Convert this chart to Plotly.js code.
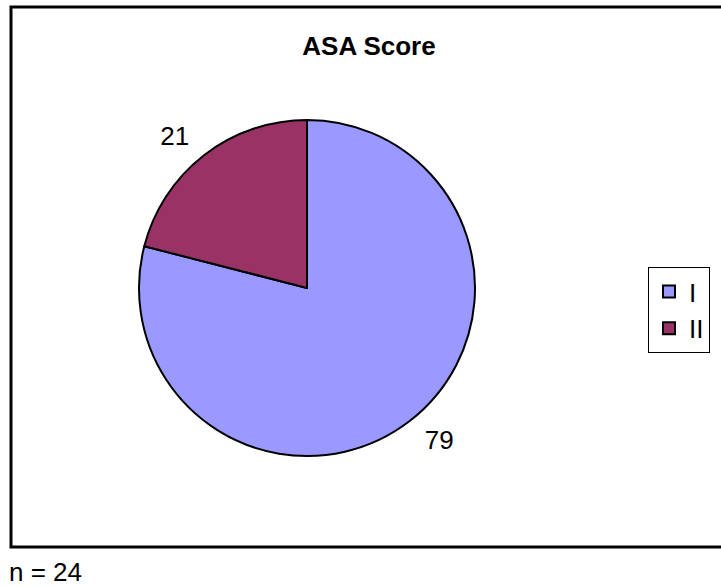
<!DOCTYPE html>
<html>
<head>
<meta charset="utf-8">
<script src="https://cdn.plot.ly/plotly-3.0.1.min.js"></script>
<style>html,body{margin:0;padding:0;background:#fff;}#chart{width:721px;height:587px;}</style>
</head>
<body>
<div id="chart"></div>
<script>
const categories = ['I', 'II'];
const values = [79, 21];
const colors = ['#9999FF', '#993366'];
const chartTitle = 'ASA Score';
const footnote = 'n = 24';

const W = 721, H = 587;
const px = x => x / W;
const py = y => 1 - y / H;
const FONT = 'Liberation Sans, Arial, sans-serif';

// visible pie
const pie = {
  type: 'pie',
  labels: categories,
  values: values,
  sort: false,
  direction: 'clockwise',
  rotation: 0,
  marker: {colors: colors, line: {color: '#000', width: 2}},
  textinfo: 'none',
  hoverinfo: 'label+value',
  showlegend: true,
  domain: {x: [px(139), px(475)], y: [py(456), py(120)]}
};

// transparent, slightly larger copy that only carries the outside value labels
const labelPie = {
  type: 'pie',
  labels: categories,
  values: values,
  sort: false,
  direction: 'clockwise',
  rotation: 0,
  marker: {colors: ['rgba(0,0,0,0)', 'rgba(0,0,0,0)'], line: {width: 0}},
  textinfo: 'value',
  textposition: 'outside',
  textfont: {family: FONT, size: 26, color: '#000'},
  hoverinfo: 'skip',
  showlegend: false,
  domain: {x: [px(127), px(487)], y: [py(468), py(108)]}
};

const layout = {
  width: W, height: H,
  margin: {l: 0, r: 0, t: 0, b: 0},
  paper_bgcolor: '#fff',
  plot_bgcolor: '#fff',
  font: {family: FONT, color: '#000'},
  title: {
    text: '<b>' + chartTitle + '</b>',
    font: {family: FONT, size: 26, color: '#000'},
    x: px(369), xanchor: 'center', y: py(46), yanchor: 'middle', xref: 'paper', yref: 'paper'
  },
  showlegend: true,
  legend: {
    x: px(648), y: py(267), xanchor: 'left', yanchor: 'top',
    bordercolor: '#000', borderwidth: 1, bgcolor: '#fff',
    entrywidth: 70, entrywidthmode: 'pixels',
    font: {family: FONT, size: 26, color: '#000'}
  },
  shapes: [{
    type: 'rect', xref: 'paper', yref: 'paper',
    x0: px(11), x1: px(724), y0: py(547), y1: py(7),
    line: {color: '#000', width: 3}, fillcolor: 'rgba(0,0,0,0)', layer: 'below'
  }],
  annotations: [{
    text: footnote, xref: 'paper', yref: 'paper',
    x: px(7), y: py(572), xanchor: 'left', yanchor: 'middle', showarrow: false,
    font: {family: FONT, size: 26, color: '#000'}
  }]
};

Plotly.newPlot('chart', [pie, labelPie], layout, {displayModeBar: false, staticPlot: true});
</script>
</body>
</html>
